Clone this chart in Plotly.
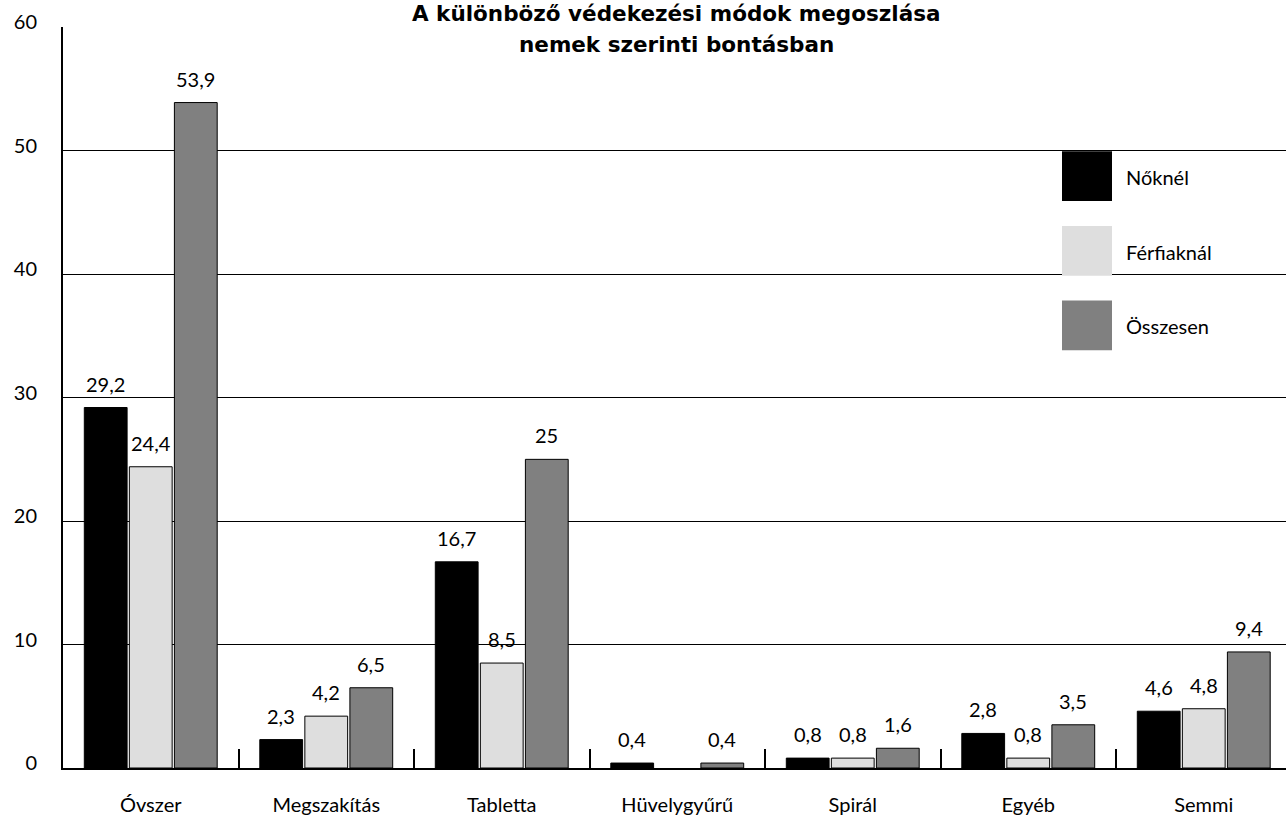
import plotly.graph_objects as go

# Contraception methods by sex (percent)
categories = ["Óvszer", "Megszakítás", "Tabletta", "Hüvelygyűrű", "Spirál", "Egyéb", "Semmi"]
series_names = ["Nőknél", "Férfiaknál", "Összesen"]
noknel = [29.2, 2.3, 16.7, 0.4, 0.8, 2.8, 4.6]
ferfiaknal = [24.4, 4.2, 8.5, None, 0.8, 0.8, 4.8]
osszesen = [53.9, 6.5, 25.0, 0.4, 1.6, 3.5, 9.4]
y_ticks = [0, 10, 20, 30, 40, 50, 60]

series_values = [noknel, ferfiaknal, osszesen]
colors = ["#000000", "#dedede", "#808080"]

FONT = "Lato, 'Open Sans', sans-serif"
TITLE_FONT = "'DejaVu Sans', sans-serif"
FS = 20
W, H = 1286, 816
L, R, T, B = 63, 0, 27, 44
BARGAP = 0.23
plot_w = W - L - R
plot_h = H - T - B
cat_px = 175.5  # pixel width of one category slot
x_range = [-0.5, -0.5 + plot_w / cat_px]


def fmt(v):
    s = f"{v:.1f}".rstrip("0").rstrip(".")
    return s.replace(".", ",")


fig = go.Figure()
for name, vals, col in zip(series_names, series_values, colors):
    fig.add_trace(go.Bar(
        name=name, x=categories, y=vals,
        marker=dict(color=col, line=dict(color="#000000", width=1)),
        showlegend=False,
    ))

# value labels above each bar
slot = (1 - BARGAP) / 3
for k, vals in enumerate(series_values):
    off = (k - 1) * slot
    for i, v in enumerate(vals):
        if v is None:
            continue
        fig.add_annotation(
            x=i + off, y=v, xref="x", yref="y", text=fmt(v),
            showarrow=False, yanchor="bottom", xanchor="center", yshift=10,
            font=dict(family=FONT, size=FS, color="#000000"),
        )

# legend drawn as large swatches with labels
def px_to_paper_x(px):
    return (px - L) / plot_w


def px_to_paper_y(py):
    return (H - B - py) / plot_h


swatch_tops = [152, 227, 302]
for name, col, top in zip(series_names, colors, swatch_tops):
    fig.add_shape(
        type="rect", xref="paper", yref="paper", layer="above",
        x0=px_to_paper_x(1062), x1=px_to_paper_x(1112),
        y0=px_to_paper_y(top + 50), y1=px_to_paper_y(top),
        fillcolor=col, line=dict(width=0),
    )
    fig.add_annotation(
        x=px_to_paper_x(1124), y=px_to_paper_y(top + 26), xref="paper", yref="paper",
        text=name, showarrow=False, xanchor="left", yanchor="middle",
        font=dict(family=FONT, size=FS, color="#000000"),
    )

# two-line title
title_lines = ["A különböző védekezési módok megoszlása", "nemek szerinti bontásban"]
for line, py in zip(title_lines, [13, 45]):
    fig.add_annotation(
        x=px_to_paper_x(676), y=px_to_paper_y(py), xref="paper", yref="paper",
        text=f"<b>{line}</b>", showarrow=False, xanchor="center", yanchor="middle",
        font=dict(family=TITLE_FONT, size=21.5, color="#000000"),
    )

fig.update_layout(
    width=W, height=H,
    margin=dict(l=L, r=R, t=T, b=B, pad=0),
    barmode="group", bargap=BARGAP, bargroupgap=0.05,
    plot_bgcolor="white", paper_bgcolor="white",
    font=dict(family=FONT, size=FS, color="#000000"),
)
fig.update_xaxes(
    type="category", range=x_range,
    showline=True, linecolor="#000000", linewidth=2,
    ticks="inside", ticklen=19, tickwidth=2, tickcolor="#000000",
    tickson="boundaries", showgrid=False,
    ticklabelstandoff=18,
    tickfont=dict(family=FONT, size=FS, color="#000000"),
)
fig.update_yaxes(
    range=[0, 60.02], tickvals=y_ticks,
    showgrid=True, gridcolor="#000000", gridwidth=1,
    showline=True, linecolor="#000000", linewidth=2,
    zeroline=False, ticks="",
    ticklabelstandoff=20, ticklabelshift=-5,
    tickfont=dict(family=FONT, size=FS, color="#000000"),
)

fig.write_html("out.html")
